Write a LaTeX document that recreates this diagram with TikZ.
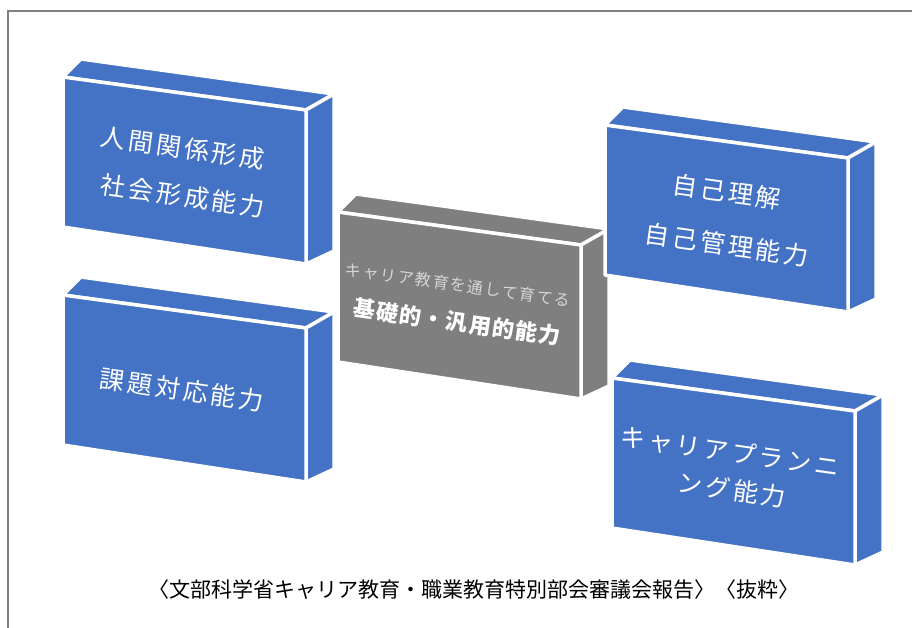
\documentclass[tikz,border=0pt]{standalone}
\usepackage{fontspec}
\newfontfamily\jpbox[LetterSpace=12]{Noto Sans CJK JP}
\newfontfamily\jpsmall[LetterSpace=10]{Noto Sans CJK JP}
\newfontfamily\jpbold[LetterSpace=6]{Noto Sans CJK JP}
\newfontfamily\jpcap{Noto Sans CJK JP}
\definecolor{boxblue}{HTML}{4472C4}
\definecolor{boxgray}{HTML}{7F7F7F}
\definecolor{framegray}{HTML}{808080}
\definecolor{lightgraytext}{HTML}{D6D6D6}
\newcommand{\mycube}[3]{%
  \begin{scope}[shift={(#1,#2)}]
    \filldraw[face=#3] (0,0) -- (18,-18) -- (271,17) -- (243,33) -- cycle;
    \filldraw[face=#3] (243,33) -- (271,17) -- (271,174) -- (243,187) -- cycle;
    \filldraw[face=#3] (0,0) -- (243,33) -- (243,187) -- (0,150) -- cycle;
  \end{scope}}
\begin{document}
\begin{tikzpicture}[x=1pt,y=-1pt,
  face/.style={fill=#1, draw=white, line width=3.5pt, line join=round},
  boxtext/.style={text=white, rotate=-8, inner sep=0pt},
  bigtxt/.style={font=\jpbox\fontsize{25}{30}\selectfont}]
\useasboundingbox (0,0) rectangle (912,627);
\fill[white] (0,0) rectangle (912,627);
\draw[framegray, line width=2pt] (8,640) -- (8,11) -- (925,11);
% boxes
\mycube{63}{77}{boxblue}
\mycube{63}{295}{boxblue}
\mycube{338}{212}{boxgray}
\mycube{605}{125}{boxblue}
\mycube{612}{378}{boxblue}
% texts
\node[boxtext, bigtxt] (t1a) at (183,148) {人間関係形成};
\node[boxtext, bigtxt] (t1b) at (183,196) {社会形成能力};
\node[boxtext, bigtxt] (t2) at (182,390) {課題対応能力};
\node[boxtext, bigtxt] (t3a) at (727,192) {自己理解};
\node[boxtext, bigtxt] (t3b) at (727,245) {自己管理能力};
\node[boxtext, bigtxt] (t4a) at (730,452) {キャリアプランニ};
\node[boxtext, bigtxt] (t4b) at (732,490) {ング能力};
\node[boxtext, text=lightgraytext, font=\jpsmall\fontsize{16}{19}\selectfont] (g1) at (458,285) {キャリア教育を通して育てる};
\node[boxtext, font=\jpbold\bfseries\fontsize{22}{26}\selectfont] (g2) at (457,322) {基礎的・汎用的能力};
\node[inner sep=0pt, font=\jpcap\fontsize{21}{25}\selectfont] (cap) at (474,590) {〈文部科学省キャリア教育・職業教育特別部会審議会報告〉〈抜粋〉};
\end{tikzpicture}
\end{document}
